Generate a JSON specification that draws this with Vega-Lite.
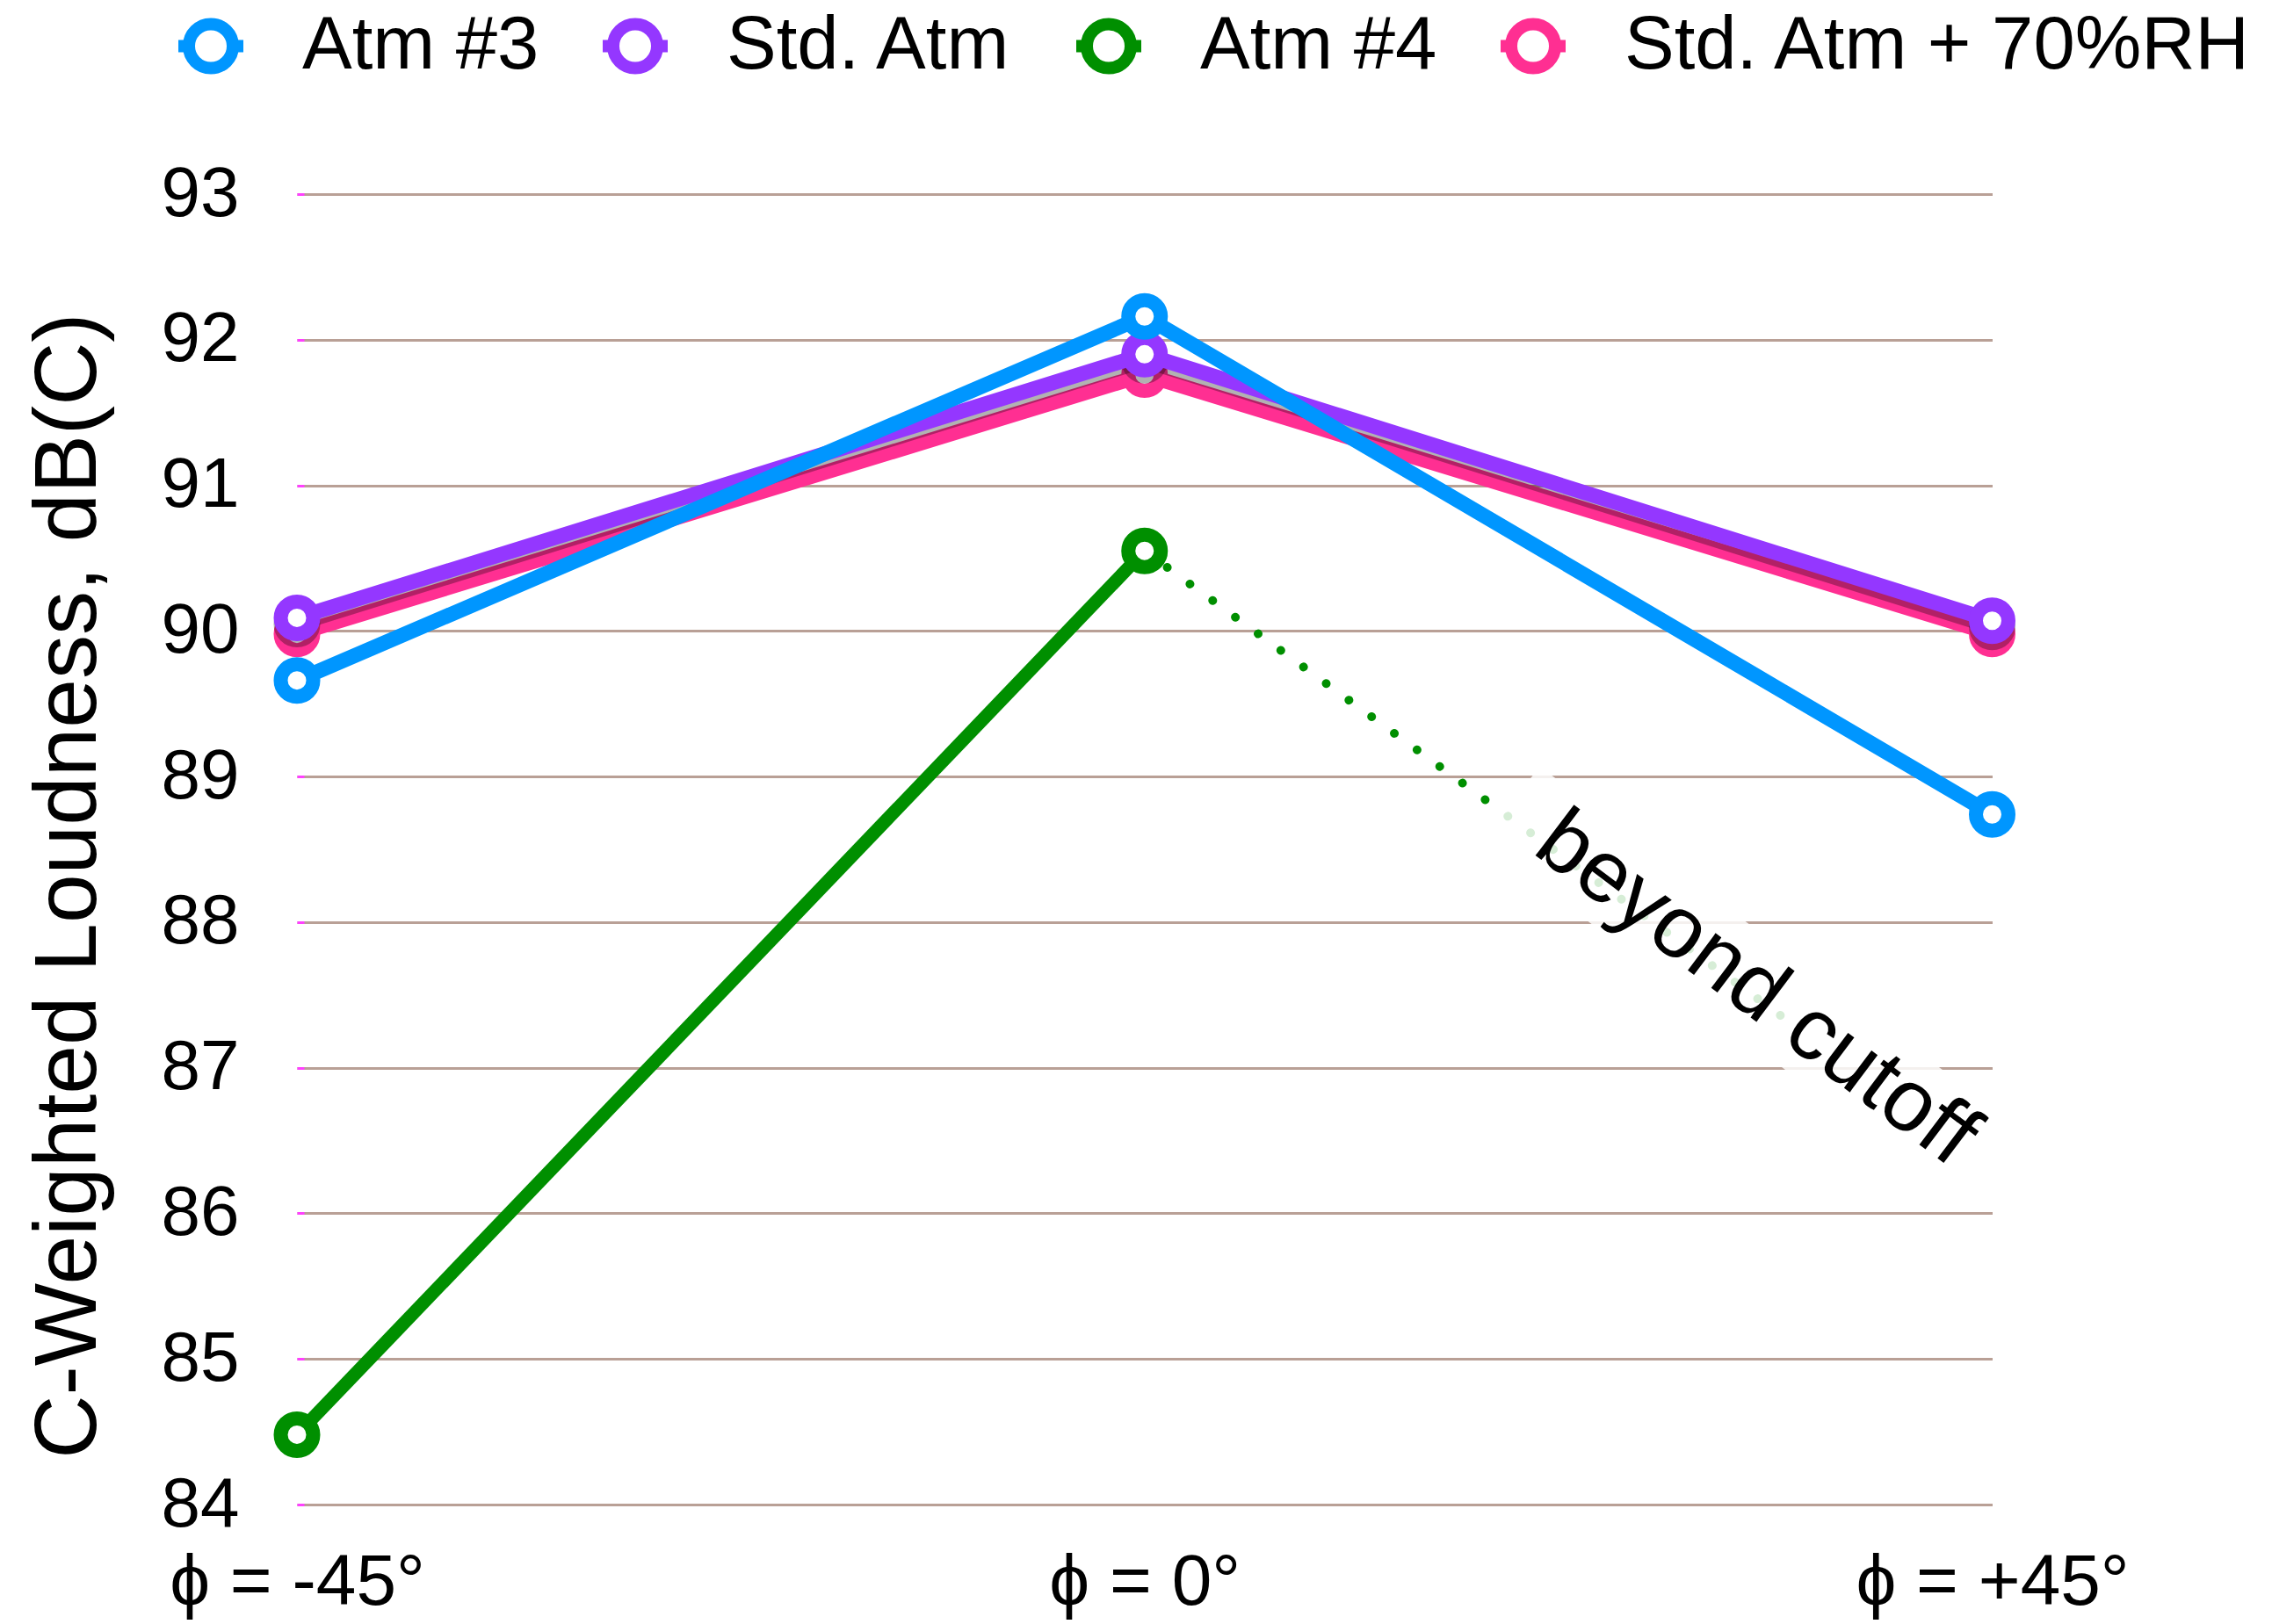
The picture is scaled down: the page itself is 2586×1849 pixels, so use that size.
{
  "$schema": "https://vega.github.io/schema/vega-lite/v6.json",
  "width": 1929.5,
  "height": 1492,
  "autosize": {"type": "none"},
  "padding": {"left": 338, "top": 221, "right": 318, "bottom": 136},
  "config": {
    "font": "Liberation Sans",
    "view": {"stroke": null}
  },
  "datasets": {
    "loudness": [
      {"series": "Atm #3", "angle": -45, "value": 89.66},
      {"series": "Atm #3", "angle": 0, "value": 92.16},
      {"series": "Atm #3", "angle": 45, "value": 88.74},
      {"series": "Std. Atm", "angle": -45, "value": 90.09},
      {"series": "Std. Atm", "angle": 0, "value": 91.9},
      {"series": "Std. Atm", "angle": 45, "value": 90.07},
      {"series": "Atm #4", "angle": -45, "value": 84.48},
      {"series": "Atm #4", "angle": 0, "value": 90.55},
      {"series": "Std. Atm + 70%RH", "angle": -45, "value": 89.98},
      {"series": "Std. Atm + 70%RH", "angle": 0, "value": 91.76},
      {"series": "Std. Atm + 70%RH", "angle": 45, "value": 89.98}
    ],
    "cutoff": [
      {"angle": 0, "value": 90.55},
      {"angle": 34.6, "value": 87.28}
    ],
    "note": [
      {"angle": 32.5, "value": 87.54, "label": "beyond cutoff"}
    ]
  },
  "data": {"name": "loudness"},
  "encoding": {
    "x": {
      "field": "angle",
      "type": "quantitative",
      "scale": {"domain": [-45, 45], "nice": false, "zero": false},
      "axis": {
        "title": null,
        "values": [-45, 0, 45],
        "labelExpr": "'ϕ = ' + (datum.value > 0 ? '+' : '') + datum.value + '°'",
        "labelFontSize": 82,
        "labelColor": "black",
        "labelPadding": 48,
        "labelLimit": 1000,
        "labelFlush": false,
        "labelOverlap": false,
        "ticks": false,
        "domain": false,
        "grid": false
      }
    },
    "y": {
      "field": "value",
      "type": "quantitative",
      "scale": {"domain": [84, 93], "nice": false, "zero": false},
      "axis": {
        "title": "C-Weighted Loudness, dB(C)",
        "titleFontSize": 100,
        "titleFontWeight": "normal",
        "titleColor": "black",
        "titlePadding": 54,
        "titleY": 787,
        "values": [84, 85, 86, 87, 88, 89, 90, 91, 92, 93],
        "labelFontSize": 80,
        "labelColor": "black",
        "labelPadding": 66,
        "offset": -8,
        "ticks": true,
        "tickSize": 8,
        "tickWidth": 3,
        "tickColor": "#ff40ff",
        "domain": false,
        "grid": true,
        "gridColor": "#b9a096",
        "gridWidth": 3,
        "gridOpacity": 1
      }
    },
    "color": {
      "field": "series",
      "type": "nominal",
      "scale": {
        "domain": ["Atm #3", "Std. Atm", "Atm #4", "Std. Atm + 70%RH"],
        "range": ["#0096ff", "#9437ff", "#008f00", "#ff2f92"]
      },
      "legend": {
        "orient": "none",
        "legendX": -142,
        "legendY": -213,
        "direction": "horizontal",
        "columns": 4,
        "title": null,
        "symbolType": "M -1 0 L -0.676 0 M 0.676 0 L 1 0 M -0.676 0 A 0.676 0.676 0 1 1 0.676 0 A 0.676 0.676 0 1 1 -0.676 0 Z",
        "symbolSize": 5476,
        "symbolStrokeWidth": 14,
        "symbolFillColor": "white",
        "symbolOpacity": 1,
        "labelFontSize": 85,
        "labelColor": "black",
        "labelOffset": 60,
        "labelLimit": 1000,
        "columnPadding": 44,
        "encode": {
          "symbols": {"update": {"fill": {"value": "white"}, "fillOpacity": {"value": 1}}}
        }
      }
    }
  },
  "layer": [
    {
      "transform": [{"filter": "datum.series === 'Std. Atm + 70%RH'"}],
      "mark": {"type": "line", "strokeWidth": 17}
    },
    {
      "transform": [{"filter": "datum.series === 'Std. Atm + 70%RH'"}],
      "mark": {"type": "point", "shape": "circle", "size": 1369, "strokeWidth": 16, "filled": false, "fill": "white", "fillOpacity": 1, "opacity": 1}
    },
    {
      "transform": [{"filter": "datum.series === 'Std. Atm'"}],
      "mark": {"type": "line", "strokeWidth": 17, "yOffset": 7, "opacity": 0.3},
      "encoding": {"color": {"value": "black"}}
    },
    {
      "transform": [{"filter": "datum.series === 'Std. Atm'"}],
      "mark": {"type": "point", "shape": "circle", "size": 1369, "strokeWidth": 16, "filled": false, "yOffset": 7, "opacity": 0.3},
      "encoding": {"color": {"value": "black"}}
    },
    {
      "transform": [{"filter": "datum.series === 'Std. Atm'"}],
      "mark": {"type": "line", "strokeWidth": 17}
    },
    {
      "transform": [{"filter": "datum.series === 'Std. Atm'"}],
      "mark": {"type": "point", "shape": "circle", "size": 1369, "strokeWidth": 16, "filled": false, "fill": "white", "fillOpacity": 1, "opacity": 1}
    },
    {
      "transform": [{"filter": "datum.series === 'Atm #3'"}],
      "mark": {"type": "line", "strokeWidth": 17}
    },
    {
      "transform": [{"filter": "datum.series === 'Atm #3'"}],
      "mark": {"type": "point", "shape": "circle", "size": 1369, "strokeWidth": 16, "filled": false, "fill": "white", "fillOpacity": 1, "opacity": 1}
    },
    {
      "transform": [{"filter": "datum.series === 'Atm #4'"}],
      "mark": {"type": "line", "strokeWidth": 15}
    },
    {
      "data": {"name": "cutoff"},
      "mark": {"type": "line", "strokeWidth": 10, "strokeCap": "round", "strokeDash": [0.01, 32]},
      "encoding": {"color": {"value": "#008f00"}}
    },
    {
      "transform": [{"filter": "datum.series === 'Atm #4'"}],
      "mark": {"type": "point", "shape": "circle", "size": 1369, "strokeWidth": 16, "filled": false, "fill": "white", "fillOpacity": 1, "opacity": 1}
    },
    {
      "data": {"name": "note"},
      "mark": {
        "type": "point",
        "shape": "M -1 -0.154 L 1 -0.154 L 1 0.154 L -1 0.154 Z",
        "size": 490000,
        "angle": 37,
        "filled": true,
        "strokeWidth": 0,
        "opacity": 0.84
      },
      "encoding": {"color": {"value": "white"}}
    },
    {
      "data": {"name": "note"},
      "mark": {"type": "text", "angle": 37, "fontSize": 100, "align": "center", "baseline": "middle"},
      "encoding": {"text": {"field": "label"}, "color": {"value": "black"}}
    }
  ]
}
